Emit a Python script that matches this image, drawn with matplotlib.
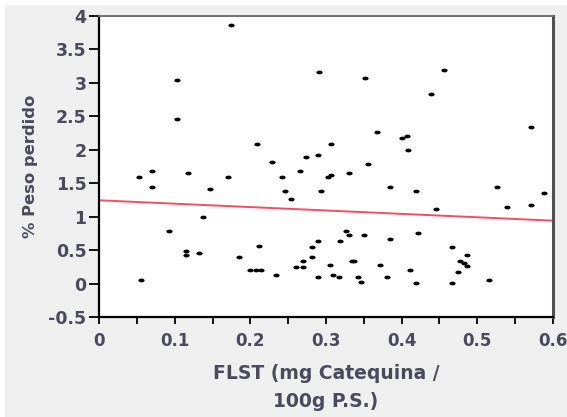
import numpy as np
import matplotlib
matplotlib.use("Agg")
import matplotlib.pyplot as plt
from matplotlib.path import Path
from matplotlib.patches import Rectangle
from matplotlib.ticker import MultipleLocator, FixedLocator

# Data (FLST, % Peso perdido)
flst = [0.053, 0.070, 0.070, 0.056, 0.103, 0.103, 0.117, 0.147, 0.170, 0.174,
        0.209, 0.229, 0.242, 0.246, 0.093, 0.115, 0.115, 0.132, 0.137, 0.185,
        0.200, 0.208, 0.214, 0.211, 0.234, 0.265, 0.254, 0.294, 0.303, 0.306,
        0.331, 0.356, 0.384, 0.261, 0.269, 0.270, 0.282, 0.282, 0.290, 0.290,
        0.305, 0.309, 0.317, 0.319, 0.327, 0.331, 0.334, 0.337, 0.350, 0.342,
        0.346, 0.372, 0.381, 0.384, 0.411, 0.419, 0.446, 0.526, 0.539, 0.571,
        0.588, 0.421, 0.419, 0.466, 0.466, 0.486, 0.477, 0.482, 0.486, 0.474,
        0.515, 0.291, 0.351, 0.367, 0.401, 0.407, 0.408, 0.274, 0.290, 0.307,
        0.456, 0.439, 0.571]
peso = [1.60, 1.68, 1.44, 0.06, 3.04, 2.46, 1.66, 1.41, 1.60, 3.86,
        2.08, 1.81, 1.60, 1.38, 0.78, 0.49, 0.43, 0.45, 1.00, 0.39,
        0.21, 0.21, 0.21, 0.56, 0.13, 1.68, 1.26, 1.38, 1.59, 1.62,
        1.66, 1.78, 1.45, 0.25, 0.25, 0.33, 0.40, 0.54, 0.63, 0.10,
        0.28, 0.13, 0.10, 0.63, 0.78, 0.73, 0.33, 0.33, 0.73, 0.10,
        0.03, 0.28, 0.10, 0.66, 0.21, 0.01, 1.11, 1.45, 1.14, 1.18,
        1.36, 0.76, 1.38, 0.55, 0.01, 0.43, 0.33, 0.31, 0.26, 0.18,
        0.06, 3.16, 3.08, 2.26, 2.18, 2.21, 1.99, 1.89, 1.92, 2.08,
        3.20, 2.83, 2.34]

# Fitted line end points
fit_x = [0.0, 0.6]
fit_y = [1.245, 0.94]

x_ticks = [0, 0.1, 0.2, 0.3, 0.4, 0.5, 0.6]
x_tick_labels = ["0", "0.1", "0.2", "0.3", "0.4", "0.5", "0.6"]
y_ticks = [-0.5, 0, 0.5, 1, 1.5, 2, 2.5, 3, 3.5, 4]
y_tick_labels = ["-0.5", "0", "0.5", "1", "1.5", "2", "2.5", "3", "3.5", "4"]

plt.rcParams['font.family'] = ['DejaVu Sans']
text_color = '#4a4a5c'

fig = plt.figure(figsize=(5.67, 4.17), dpi=100, facecolor='white')
fig.patches.append(Rectangle((5/567, 0), 1, 412/417, transform=fig.transFigure,
                             facecolor='#efefef', edgecolor='none', zorder=-10))

ax = fig.add_axes([99/567, 1 - 317/417, (553 - 99)/567, (317 - 16)/417])
ax.set_facecolor('white')

ell = Path.unit_circle().transformed(matplotlib.transforms.Affine2D().scale(1.0, 0.6))
ax.plot(fit_x, fit_y, color='#f24d62', lw=1.4, zorder=2)
ax.plot(flst, peso, linestyle='none', marker=ell, markersize=4.5,
        color='black', markeredgewidth=0, zorder=3)

ax.set_xlim(0, 0.6)
ax.set_ylim(-0.5, 4)
ax.xaxis.set_major_locator(FixedLocator(x_ticks))
ax.set_xticklabels(x_tick_labels, fontweight='bold')
ax.xaxis.set_minor_locator(MultipleLocator(0.05))
ax.yaxis.set_major_locator(FixedLocator(y_ticks))
ax.set_yticklabels(y_tick_labels, fontweight='bold')

ax.tick_params(axis='x', which='both', direction='out', length=5, width=1.3,
               colors='black', labelcolor=text_color, labelsize=12, pad=6)
ax.tick_params(axis='y', which='both', direction='out', length=7, width=1.3,
               colors='black', labelcolor=text_color, labelsize=12.5, pad=2)

for s in ['left', 'bottom']:
    ax.spines[s].set_color('black')
    ax.spines[s].set_linewidth(1.6)
ax.spines['top'].set_color('#707070')
ax.spines['top'].set_linewidth(1.4)
ax.spines['right'].set_color('#505050')
ax.spines['right'].set_linewidth(2.2)

ax.set_xlabel("FLST (mg Catequina /\n100g P.S.)", fontsize=13.5, color=text_color,
              fontweight='bold', linespacing=1.6)
ax.xaxis.set_label_coords(0.5, -0.155)
ax.set_ylabel("% Peso perdido", fontsize=11.8, color=text_color, fontweight='bold')
ax.yaxis.set_label_coords(-0.135, 0.5)

fig.savefig("out.png", dpi=100, facecolor=fig.get_facecolor())
